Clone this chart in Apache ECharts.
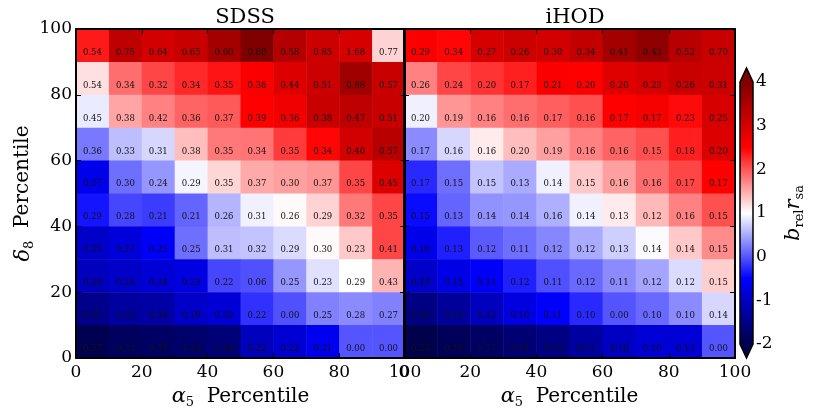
<!DOCTYPE html>
<html>
<head>
<meta charset="utf-8">
<script src="https://cdn.jsdelivr.net/npm/echarts@6/dist/echarts.min.js"></script>
<style>
  html, body { margin: 0; padding: 0; background: #fff; }
  #chart { width: 813px; height: 420px; }
</style>
</head>
<body>
<div id="chart"></div>
<script>
// cell lower edges (percentile), rows are listed top row first
const alphaBins = [0, 10, 20, 30, 40, 50, 60, 70, 80, 90]
const deltaBins = [90, 80, 70, 60, 50, 40, 30, 20, 10, 0]
const binWidth = 10
const colorRange = [-2, 4]
const colorbarTicks = [-2, -1, 0, 1, 2, 3, 4]

// b_rel * r_sa (colour)
const sdssBias = [
  [2.35, 3.27, 3.03, 3.15, 3.56, 4.00, 3.39, 3.09, 2.97, 1.26],
  [1.18, 1.85, 2.09, 2.26, 2.38, 2.55, 2.90, 3.10, 3.62, 3.15],
  [0.88, 1.53, 1.74, 1.91, 1.97, 2.50, 2.65, 3.15, 3.27, 3.15],
  [0.21, 0.62, 0.76, 1.38, 1.79, 1.82, 2.15, 2.47, 3.03, 3.33],
  [-0.67, 0.15, 0.38, 0.94, 1.24, 1.50, 1.56, 1.62, 2.09, 2.90],
  [-0.38, -0.09, -0.15, 0.09, 0.56, 0.91, 1.03, 1.26, 1.79, 2.09],
  [-0.96, -0.80, -0.54, 0.15, 0.62, 0.65, 0.79, 1.03, 1.32, 2.09],
  [-1.05, -0.96, -0.84, -0.75, -0.09, -0.03, 0.38, 0.82, 1.00, 1.44],
  [-1.47, -1.30, -1.26, -0.96, -0.84, -0.21, -0.03, 0.26, 0.32, 0.26],
  [-1.97, -1.85, -1.80, -1.72, -1.64, -1.05, -0.88, -0.62, 0.00, 0.00]
]
// errors printed in the SDSS cells
const sdssErr = [
  [0.54, 0.75, 0.64, 0.65, 0.60, 0.60, 0.58, 0.85, 1.68, 0.77],
  [0.54, 0.34, 0.32, 0.34, 0.35, 0.36, 0.44, 0.51, 0.88, 0.57],
  [0.45, 0.38, 0.42, 0.36, 0.37, 0.39, 0.36, 0.38, 0.47, 0.51],
  [0.36, 0.33, 0.31, 0.38, 0.35, 0.34, 0.35, 0.34, 0.40, 0.57],
  [0.27, 0.30, 0.24, 0.29, 0.35, 0.37, 0.30, 0.37, 0.35, 0.45],
  [0.29, 0.28, 0.21, 0.21, 0.26, 0.31, 0.26, 0.29, 0.32, 0.35],
  [0.25, 0.27, 0.25, 0.25, 0.31, 0.32, 0.29, 0.30, 0.23, 0.41],
  [0.28, 0.25, 0.24, 0.23, 0.22, 0.06, 0.25, 0.23, 0.29, 0.43],
  [0.31, 0.28, 0.24, 0.19, 0.20, 0.22, 0.00, 0.25, 0.28, 0.27],
  [0.37, 0.32, 0.30, 0.28, 0.28, 0.22, 0.22, 0.21, 0.00, 0.00]
]
// b_rel * r_sa (colour)
const ihodBias = [
  [2.55, 2.47, 2.97, 3.09, 3.03, 3.21, 3.56, 3.80, 3.33, 3.15],
  [1.74, 2.09, 2.20, 2.32, 2.55, 2.50, 2.85, 2.97, 3.15, 3.09],
  [0.91, 1.62, 1.74, 1.85, 1.94, 2.03, 2.50, 2.60, 2.44, 2.97],
  [0.32, 0.76, 1.12, 1.38, 1.56, 1.74, 1.91, 2.03, 2.32, 2.90],
  [-0.26, 0.15, 0.65, 0.50, 0.91, 1.32, 1.56, 1.85, 2.09, 2.50],
  [-0.44, 0.09, 0.35, 0.38, 0.53, 0.91, 1.12, 1.41, 1.74, 2.03],
  [-0.67, -0.32, 0.03, 0.15, 0.29, 0.50, 0.71, 0.97, 1.32, 1.68],
  [-0.96, -0.71, -0.54, -0.32, -0.03, 0.12, 0.32, 0.47, 0.79, 1.29],
  [-1.55, -1.34, -1.05, -0.75, -0.50, -0.26, 0.00, 0.12, 0.32, 0.76],
  [-2.00, -1.90, -1.80, -1.68, -1.55, -1.30, -1.00, -0.84, -0.84, 0.00]
]
// errors printed in the iHOD cells
const ihodErr = [
  [0.29, 0.34, 0.27, 0.26, 0.30, 0.34, 0.41, 0.43, 0.52, 0.70],
  [0.26, 0.24, 0.20, 0.17, 0.21, 0.20, 0.20, 0.23, 0.26, 0.31],
  [0.20, 0.19, 0.16, 0.16, 0.17, 0.16, 0.17, 0.17, 0.23, 0.25],
  [0.17, 0.16, 0.16, 0.20, 0.19, 0.16, 0.16, 0.15, 0.18, 0.20],
  [0.17, 0.15, 0.15, 0.13, 0.14, 0.15, 0.16, 0.16, 0.17, 0.17],
  [0.15, 0.13, 0.14, 0.14, 0.16, 0.14, 0.13, 0.12, 0.16, 0.15],
  [0.16, 0.13, 0.12, 0.11, 0.12, 0.12, 0.13, 0.14, 0.14, 0.15],
  [0.19, 0.15, 0.13, 0.12, 0.11, 0.12, 0.11, 0.12, 0.12, 0.15],
  [0.20, 0.15, 0.12, 0.10, 0.11, 0.10, 0.00, 0.10, 0.10, 0.14],
  [0.23, 0.19, 0.17, 0.14, 0.13, 0.11, 0.10, 0.10, 0.13, 0.00]
]

const FONT = 'DejaVu Serif'
const seismic = ['#00004c', '#0000ff', '#ffffff', '#ff0000', '#800000']

function toCells (bias, err) {
  const cells = []
  deltaBins.forEach((y, r) => {
    alphaBins.forEach((x, c) => {
      cells.push([x, y, bias[r][c], err[r][c]])
    })
  })
  return cells
}

function renderCell (params, api) {
  const x0 = api.value(0)
  const y0 = api.value(1)
  const p0 = api.coord([x0, y0 + binWidth])
  const p1 = api.coord([x0 + binWidth, y0])
  const pt = api.coord([x0 + binWidth / 2, y0 + 2.8])
  return {
    type: 'group',
    children: [
      {
        type: 'rect',
        shape: { x: p0[0], y: p0[1], width: p1[0] - p0[0] + 0.5, height: p1[1] - p0[1] + 0.5 },
        style: { fill: api.visual('color') }
      },
      {
        type: 'text',
        x: pt[0],
        y: pt[1],
        style: {
          text: api.value(3).toFixed(2),
          fill: '#111',
          font: '8.5px "' + FONT + '"',
          align: 'center',
          verticalAlign: 'middle'
        }
      }
    ]
  }
}

function renderColorbar (params, api) {
  const top = api.coord([0, api.value(1)])
  const bottom = api.coord([1, api.value(0)])
  const w = bottom[0] - top[0]
  const ext = (bottom[1] - top[1]) * 0.053
  const mid = top[0] + w / 2
  const stops = seismic.slice().reverse().map((c, i) => ({ offset: i / (seismic.length - 1), color: c }))
  return {
    type: 'group',
    children: [
      {
        type: 'rect',
        shape: { x: top[0], y: top[1], width: w, height: bottom[1] - top[1] },
        style: { fill: { type: 'linear', x: 0, y: 0, x2: 0, y2: 1, colorStops: stops } }
      },
      {
        type: 'polygon',
        shape: { points: [[top[0], top[1]], [mid, top[1] - ext], [bottom[0], top[1]]] },
        style: { fill: seismic[seismic.length - 1] }
      },
      {
        type: 'polygon',
        shape: { points: [[top[0], bottom[1]], [mid, bottom[1] + ext], [bottom[0], bottom[1]]] },
        style: { fill: seismic[0] }
      },
      {
        type: 'polygon',
        shape: {
          points: [[top[0], top[1]], [mid, top[1] - ext], [bottom[0], top[1]],
            [bottom[0], bottom[1]], [mid, bottom[1] + ext], [top[0], bottom[1]]]
        },
        style: { fill: 'none', stroke: '#000', lineWidth: 1.5 }
      }
    ]
  }
}

const chart = echarts.init(document.getElementById('chart'))

const tickStyle = { inside: true, length: 5, lineStyle: { color: '#000', width: 1 } }
const lineStyle = { show: true, onZero: false, lineStyle: { color: '#000', width: 2 } }
const labelStyle = { color: '#000', fontFamily: FONT, fontSize: 17 }
const subRich = {
  g: { fontFamily: FONT, fontSize: 21, fontStyle: 'italic', color: '#000' },
  s: { fontFamily: FONT, fontSize: 13, color: '#000', padding: [12, 0, 0, 0] }
}

function xAxes (grid) {
  return [
    {
      gridIndex: grid,
      type: 'value',
      min: 0,
      max: 100,
      interval: 20,
      position: 'bottom',
      z: 10,
      splitLine: { show: false },
      axisLine: lineStyle,
      axisTick: tickStyle,
      axisLabel: { ...labelStyle, margin: 6 },
      name: '{g|α}{s|5}  Percentile',
      nameLocation: 'middle',
      nameGap: 25,
      nameTextStyle: { color: '#000', fontFamily: FONT, fontSize: 20, rich: subRich }
    },
    {
      gridIndex: grid,
      type: 'value',
      min: 0,
      max: 100,
      interval: 20,
      position: 'top',
      z: 10,
      splitLine: { show: false },
      axisLine: lineStyle,
      axisTick: tickStyle,
      axisLabel: { show: false }
    }
  ]
}

function yAxes (grid, withLabels) {
  return [
    {
      gridIndex: grid,
      type: 'value',
      min: 0,
      max: 100,
      interval: 20,
      position: 'left',
      z: 10,
      splitLine: { show: false },
      axisLine: lineStyle,
      axisTick: tickStyle,
      axisLabel: { ...labelStyle, show: withLabels, margin: 4 },
      name: withLabels ? '{g|δ}{s|8}  Percentile' : '',
      nameLocation: 'middle',
      nameRotate: 90,
      nameGap: 33,
      nameTextStyle: { color: '#000', fontFamily: FONT, fontSize: 20, rich: subRich }
    },
    {
      gridIndex: grid,
      type: 'value',
      min: 0,
      max: 100,
      interval: 20,
      position: 'right',
      z: 10,
      splitLine: { show: false },
      axisLine: lineStyle,
      axisTick: tickStyle,
      axisLabel: { show: false }
    }
  ]
}

const titleStyle = { fontFamily: FONT, fontSize: 21, fontWeight: 'normal', color: '#000' }

const option = {
  animation: false,
  backgroundColor: '#fff',
  title: [
    { text: 'SDSS', left: 240, top: 2, textAlign: 'center', textStyle: titleStyle },
    { text: 'iHOD', left: 570, top: 2, textAlign: 'center', textStyle: titleStyle }
  ],
  grid: [
    { left: 76, top: 29, width: 329, height: 329 },
    { left: 404, top: 29, width: 331, height: 329 },
    { left: 740, top: 82, width: 13, height: 262 }
  ],
  visualMap: {
    type: 'continuous',
    show: false,
    min: colorRange[0],
    max: colorRange[1],
    dimension: 2,
    seriesIndex: [0, 1],
    inRange: { color: seismic }
  },
  xAxis: [
    ...xAxes(0),
    ...xAxes(1),
    { gridIndex: 2, type: 'value', min: 0, max: 1, show: false }
  ],
  yAxis: [
    ...yAxes(0, true),
    ...yAxes(1, false),
    {
      gridIndex: 2,
      type: 'value',
      min: colorRange[0],
      max: colorRange[1],
      interval: 1,
      position: 'right',
      splitLine: { show: false },
      axisLine: { show: false },
      axisTick: { show: false },
      axisLabel: {
        ...labelStyle,
        margin: 3,
        formatter: v => colorbarTicks.includes(v) ? String(v) : ''
      },
      name: '{g|b}{s|rel}{g|r}{s|sa}',
      nameLocation: 'middle',
      nameRotate: 90,
      nameGap: 28,
      nameTextStyle: { color: '#000', fontFamily: FONT, fontSize: 20, rich: subRich }
    }
  ],
  series: [
    {
      name: 'SDSS',
      type: 'custom',
      xAxisIndex: 0,
      yAxisIndex: 0,
      renderItem: renderCell,
      encode: { x: 0, y: 1 },
      data: toCells(sdssBias, sdssErr),
      z: 1
    },
    {
      name: 'iHOD',
      type: 'custom',
      xAxisIndex: 2,
      yAxisIndex: 2,
      renderItem: renderCell,
      encode: { x: 0, y: 1 },
      data: toCells(ihodBias, ihodErr),
      z: 1
    },
    {
      name: 'colorbar',
      type: 'custom',
      xAxisIndex: 4,
      yAxisIndex: 4,
      renderItem: renderColorbar,
      data: [colorRange],
      silent: true
    }
  ]
}

chart.setOption(option)
</script>
</body>
</html>
